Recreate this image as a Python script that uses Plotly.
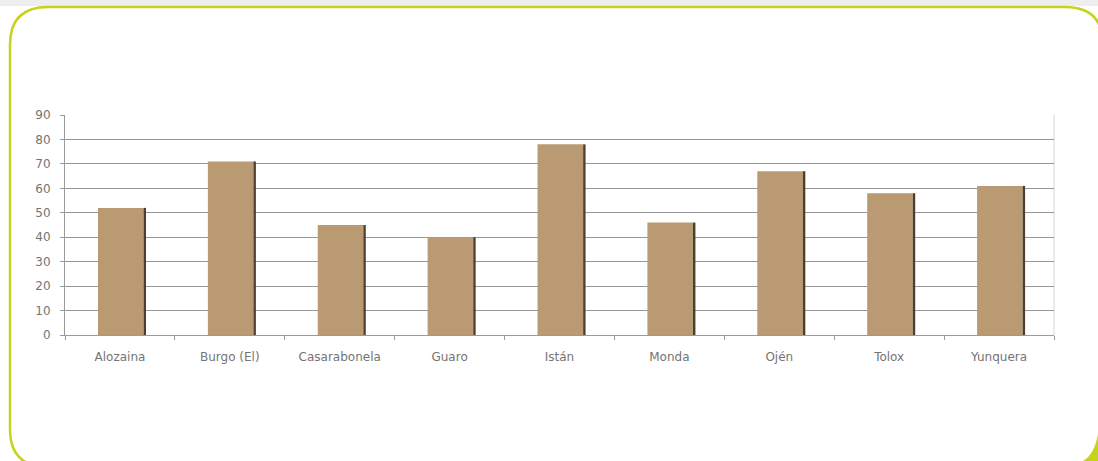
import plotly.graph_objects as go

categories = ["Alozaina", "Burgo (El)", "Casarabonela", "Guaro", "Istán",
              "Monda", "Ojén", "Tolox", "Yunquera"]
values = [52, 71, 45, 40, 78, 46, 67, 58, 61]
y_ticks = [0, 10, 20, 30, 40, 50, 60, 70, 80, 90]

W, H = 1098, 461
L, R, T, B = 65, 1054, 114.5, 335.5


def px(x):
    return (x - L) / (R - L)


def py(y):
    return (B - y) / (B - T)


fig = go.Figure()
fig.add_trace(go.Bar(
    x=categories, y=values, marker=dict(color="#BA9A73", line=dict(width=0)),
    width=0.415, offset=-0.2, hoverinfo="x+y", showlegend=False))
fig.add_trace(go.Bar(
    x=categories, y=values, marker=dict(color="#4d3f30", line=dict(width=0)),
    width=0.022, offset=0.215, hoverinfo="skip", showlegend=False))

# Rounded frame path in paper coordinates
x0, x1, y0, y1, r = 10, 1103, 6, 468, 38
def P(x, y):
    return f"{px(x):.5f},{py(y):.5f}"
frame = (f"M {P(x0 + r, y0)} L {P(x1 - r, y0)} Q {P(x1, y0)} {P(x1, y0 + r)} "
         f"L {P(x1, y1 - r)} Q {P(x1, y1)} {P(x1 - r, y1)} "
         f"L {P(x0 + r, y1)} Q {P(x0, y1)} {P(x0, y1 - r)} "
         f"L {P(x0, y0 + r)} Q {P(x0, y0)} {P(x0 + r, y0)} Z")
corner = (f"M {P(1099, 428)} Q {P(1096, 455)} {P(1083, 462)} L {P(1099, 462)} Z")

shapes = [
    dict(type="rect", xref="paper", yref="paper", x0=px(-1), x1=px(W + 1), y0=py(-1), y1=py(5),
         fillcolor="#eeeeee", line=dict(width=0), layer="below"),
    dict(type="path", xref="paper", yref="paper", path=frame,
         line=dict(color="#C6D31C", width=2.5), fillcolor="rgba(0,0,0,0)", layer="below"),
    dict(type="path", xref="paper", yref="paper", path=corner,
         line=dict(width=0), fillcolor="#C6D31C", layer="above"),
    dict(type="line", xref="paper", yref="paper", x0=1, x1=1, y0=0, y1=1,
         line=dict(color="#d6d6d6", width=1), layer="below"),
]

fig.update_layout(
    width=W, height=H,
    margin=dict(l=L, r=W - R, t=T, b=H - B, pad=0),
    paper_bgcolor="white", plot_bgcolor="white",
    barmode="overlay",
    font=dict(family="DejaVu Sans, sans-serif", color="#747474", size=12),
    shapes=shapes,
    xaxis=dict(
        type="category", showgrid=False, showline=True, linecolor="#9a9a9a", linewidth=1,
        ticks="outside", tickson="boundaries", ticklen=4, tickcolor="#9a9a9a",
        ticklabelstandoff=11,
        tickfont=dict(size=12, color="#747474"), range=[-0.5, 8.5], fixedrange=True),
    yaxis=dict(
        range=[0, 90], tickvals=y_ticks, showgrid=True, gridcolor="#979797", gridwidth=1,
        showline=True, linecolor="#9a9a9a", linewidth=1, ticks="outside", ticklen=4,
        ticklabelstandoff=7,
        tickcolor="#9a9a9a", tickfont=dict(size=12, color="#747474"), zeroline=False,
        fixedrange=True),
)

fig.write_html("out.html", config={"displayModeBar": False},
               post_script="document.body.style.margin='0';")
